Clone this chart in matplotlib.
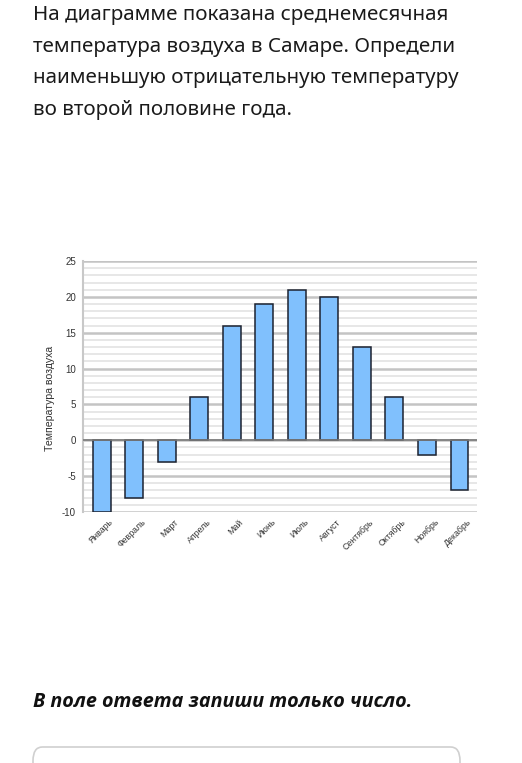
import matplotlib
matplotlib.use("Agg")
import matplotlib.pyplot as plt
import matplotlib.transforms as mtransforms
from matplotlib.patches import FancyBboxPatch
from matplotlib.ticker import MultipleLocator

months = ["Январь", "Февраль", "Март", "Апрель", "Май", "Июнь",
          "Июль", "Август", "Сентябрь", "Октябрь", "Ноябрь", "Декабрь"]
temps = [-10, -8, -3, 6, 16, 19, 21, 20, 13, 6, -2, -7]
y_ticks = [-10, -5, 0, 5, 10, 15, 20, 25]

question = ("На диаграмме показана среднемесячная\n"
            "температура воздуха в Самаре. Определи\n"
            "наименьшую отрицательную температуру\n"
            "во второй половине года.")
answer_hint = "В поле ответа запиши только число."

W, H = 522, 763
fig = plt.figure(figsize=(W / 100, H / 100), dpi=100)
fig.patch.set_facecolor("white")

# question text
fig.text(33 / W, 1 - 5 / H, question, ha="left", va="top",
         fontsize=14.8, family="Noto Sans", color="#1a1a1a", linespacing=1.78)

# chart
ax = fig.add_axes([83 / W, 1 - 512 / H, (477 - 83) / W, (512 - 261) / H])
x = list(range(len(months)))
ax.bar(x, temps, width=0.55, color="#80c0fd", edgecolor="#1c2230",
       linewidth=1.1, zorder=3)

ax.set_xlim(-0.58, 11.54)
ax.set_ylim(-10, 25)
ax.yaxis.set_minor_locator(MultipleLocator(1))
ax.set_yticks(y_ticks)
ax.set_yticklabels([str(v) for v in y_ticks], family="Liberation Sans")
ax.grid(which="minor", axis="y", color="#e3e3e3", linewidth=1.2, zorder=0)
ax.grid(which="major", axis="y", color="#c4c4c4", linewidth=1.8, zorder=0)
ax.axhline(0, color="#7a7a7a", linewidth=1.2, zorder=4)

for s in ["top", "right", "bottom"]:
    ax.spines[s].set_visible(False)
ax.spines["left"].set_color("#c8c8c8")
ax.spines["left"].set_linewidth(1.5)

ax.tick_params(axis="y", which="both", length=0, pad=5, labelsize=7,
               labelcolor="#333333")
ax.tick_params(axis="x", length=0, pad=4)
ax.set_xticks(x)
ax.set_xticklabels(months, rotation=45, ha="right", va="top",
                   rotation_mode="anchor", fontsize=6.3, color="#333333",
                   family="Liberation Sans")
shift = mtransforms.ScaledTranslation(7 / 100, 0, fig.dpi_scale_trans)
for lab in ax.get_xticklabels():
    lab.set_transform(lab.get_transform() + shift)

fig.text(50 / W, 1 - 398 / H, "Температура воздуха", rotation=90,
         ha="center", va="center", fontsize=7.6, family="Liberation Sans",
         color="#333333")

# answer hint
fig.text(33 / W, 1 - 707 / H, answer_hint, ha="left", va="baseline",
         fontsize=14.2, family="Open Sans", weight="bold", style="italic",
         color="#111111")

# answer box
box = FancyBboxPatch((33 / W, -0.05), (460 - 33) / W, (0.05 + 1 - 747 / H),
                     boxstyle="round,pad=0,rounding_size=0.018",
                     transform=fig.transFigure, facecolor="white",
                     edgecolor="#d0d0d0", linewidth=1.2)
fig.patches.append(box)

fig.savefig("out.png", dpi=100)
